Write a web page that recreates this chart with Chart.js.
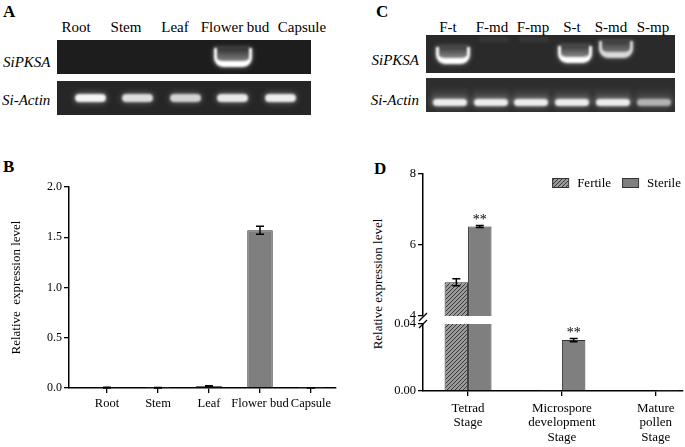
<!DOCTYPE html>
<html>
<head>
<meta charset="utf-8">
<script src="https://cdn.jsdelivr.net/npm/chart.js@4.4.0/dist/chart.umd.min.js"></script>
<style>
  body { margin:0; width:685px; height:447px; background:#fff; position:relative; overflow:hidden;
         font-family:"Liberation Serif","Times New Roman",serif; color:#000; }
  .tag { position:absolute; font-weight:bold; font-size:17px; line-height:17px; }
  .lane { position:absolute; font-size:15px; line-height:16px; transform:translateX(-50%); white-space:nowrap; }
  .gname { position:absolute; font-size:15px; line-height:16px; font-style:italic; white-space:nowrap; }
  .gel { position:absolute; overflow:hidden; }
  .band { position:absolute; }
  canvas { position:absolute; }
  #ytitleD { position:absolute; font-size:13px; white-space:nowrap; transform:translate(-50%,-50%) rotate(-90deg); }
</style>
</head>
<body>
<div class="tag" style="left:3px;top:3px">A</div>
<div class="tag" style="left:376px;top:3px">C</div>
<div class="tag" style="left:3px;top:158px">B</div>
<div class="tag" style="left:374px;top:160px">D</div>
<div id="ytitleD" style="left:378px;top:284px">Relative expression level</div>

<canvas id="chartB" width="340" height="272" style="left:0;top:175px"></canvas>
<canvas id="chartDhi" width="340" height="160" style="left:345px;top:160px"></canvas>
<canvas id="chartDlo" width="340" height="147" style="left:345px;top:300px"></canvas>

<script>
// ---- dados: géis
const lanesA = ["Root", "Stem", "Leaf", "Flower bud", "Capsule"];
const pksaA = [0, 0, 0, 1, 0];
const actinA = [0.95, 0.85, 0.8, 0.9, 0.92];

const lanesC = ["F-t", "F-md", "F-mp", "S-t", "S-md", "S-mp"];
const pksaC = [1, 0.06, 0.06, 1, 0.8, 0];
const actinC = [0.9, 0.9, 0.9, 0.9, 0.9, 0.6];

// ---- dados: painel B
const catsB = ["Root", "Stem", "Leaf", "Flower bud", "Capsule"];
const valsB = [0.004, 0.003, 0.02, 1.57, 0.002];
const errB = [0.003, 0.002, 0.002, 0.04, 0.001];
const ticksB = [0, 0.5, 1.0, 1.5, 2.0];

// ---- dados: painel D
const catsD = [["Tetrad", "Stage"], ["Microspore", "development", "Stage"], ["Mature", "pollen", "Stage"]];
const seriesD = ["Fertile", "Sterile"];
const fertileD = [4.95, 0.0003, 0.0004];
const fertileErr = [0.1, 0, 0];
const sterileD = [6.52, 0.0304, 0.0001];
const sterileErr = [0.03, 0.001, 0];
const sigSterile = ["**", "**", ""];
const ticksDhi = [4, 6, 8];
const ticksDlo = [0, 0.04];

// ---------- géis (imagem) ----------
function mkGel(x, y, w, h, bg) {
  const d = document.createElement("div");
  d.className = "gel";
  Object.assign(d.style, { left: x + "px", top: y + "px", width: w + "px", height: h + "px", background: bg });
  document.body.appendChild(d);
  return d;
}
function uBand(g, cx, top, w, h, a) {
  const b = document.createElement("div");
  b.className = "band";
  Object.assign(b.style, {
    left: (cx - w / 2) + "px", top: top + "px", width: (w - 6) + "px", height: (h - 6) + "px",
    border: `3px solid rgba(255,255,255,${a})`, borderTop: "0", borderBottomWidth: "6px",
    borderRadius: "0 0 9px 9px",
    background: `linear-gradient(to bottom, rgba(255,255,255,${0.08 * a}), rgba(255,255,255,${0.45 * a}))`,
    boxShadow: `0 0 5px rgba(255,255,255,${0.45 * a})`, filter: "blur(0.8px)"
  });
  g.appendChild(b);
}
function flatBand(g, cx, cy, w, h, a, haze) {
  if (haze) {
    const z = document.createElement("div");
    z.className = "band";
    Object.assign(z.style, {
      left: (cx - w / 2 - 2) + "px", top: (cy - 14) + "px", width: (w + 4) + "px", height: "16px",
      background: `linear-gradient(to bottom, rgba(255,255,255,0.02), rgba(255,255,255,${0.22 * a}))`,
      filter: "blur(2px)"
    });
    g.appendChild(z);
  }
  const b = document.createElement("div");
  b.className = "band";
  Object.assign(b.style, {
    left: (cx - w / 2) + "px", top: (cy - h / 2) + "px", width: w + "px", height: h + "px",
    background: `rgba(255,255,255,${a})`, borderRadius: "5px",
    boxShadow: `0 0 6px rgba(255,255,255,${0.5 * a})`, filter: "blur(1.3px)"
  });
  g.appendChild(b);
}
function laneLabel(text, cx, cy) {
  const d = document.createElement("div");
  d.className = "lane"; d.textContent = text;
  d.style.left = cx + "px"; d.style.top = (cy - 8) + "px";
  document.body.appendChild(d);
}
function geneLabel(text, x, cy, right) {
  const d = document.createElement("div");
  d.className = "gname"; d.textContent = text;
  d.style.top = (cy - 8) + "px";
  if (right) { d.style.right = (685 - x) + "px"; } else { d.style.left = x + "px"; }
  document.body.appendChild(d);
}

// painel A
const labelXA = [76, 126, 175, 235, 302];
lanesA.forEach((l, i) => laneLabel(l, labelXA[i], 27));
geneLabel("SiPKSA", 3, 62);
geneLabel("Si-Actin", 2, 100);
const gA1 = mkGel(57, 40, 254, 34, "#1d1d1d");
const gA2 = mkGel(57, 81, 254, 34, "#262626");
pksaA.forEach((v, i) => { if (v > 0.1) uBand(gA1, 33 + i * 47.5, 8, 38, 19, v); });
actinA.forEach((v, i) => flatBand(gA2, 33 + i * 47.5, 17, 31, 8, v, false));

// painel C
const labelXC = [448, 492, 533, 572, 611, 653];
lanesC.forEach((l, i) => laneLabel(l, labelXC[i], 27));
geneLabel("SiPKSA", 419, 60, true);
geneLabel("Si-Actin", 419, 100, true);
const gC1 = mkGel(426, 35, 249, 38, "#2a2a2a");
const gC2 = mkGel(426, 78, 249, 34, "#2e2e2e");
const bandTopC = [12, 8, 8, 11, 6, 8];
pksaC.forEach((v, i) => {
  if (v > 0.3) uBand(gC1, 27 + i * 40.7, bandTopC[i], 34, 17, v);
  else if (v > 0) flatBand(gC1, 27 + i * 40.7, 4, 30, 5, v, false);
});
actinC.forEach((v, i) => flatBand(gC2, 24 + i * 40.7, 24, 34, 7, v, true));

// ---------- Chart.js ----------
const FONT = "'Liberation Serif', 'Times New Roman', serif";
Chart.defaults.font.family = FONT;
Chart.defaults.color = "#000";

// barras de erro + asteriscos
const errorBars = {
  id: "errorBars",
  afterDatasetsDraw(chart) {
    const ctx = chart.ctx, ys = chart.scales.y;
    ctx.save();
    chart.data.datasets.forEach((ds, di) => {
      const meta = chart.getDatasetMeta(di);
      meta.data.forEach((bar, i) => {
        const v = ds.data[i].y, e = (ds.errors || [])[i] || 0;
        if (v < ys.min || v > ys.max) return;
        const top = ys.getPixelForValue(v + e), bot = ys.getPixelForValue(v - e);
        if (e > 0) {
          ctx.strokeStyle = "#000"; ctx.lineWidth = 1.5;
          ctx.beginPath();
          ctx.moveTo(bar.x, top); ctx.lineTo(bar.x, bot);
          ctx.moveTo(bar.x - 4, top); ctx.lineTo(bar.x + 4, top);
          ctx.moveTo(bar.x - 4, bot); ctx.lineTo(bar.x + 4, bot);
          ctx.stroke();
        }
        const s = (ds.stars || [])[i];
        if (s) {
          ctx.fillStyle = "#000"; ctx.font = "14px " + FONT;
          ctx.textAlign = "center"; ctx.textBaseline = "alphabetic";
          ctx.fillText(s, bar.x, top - 1);
        }
      });
    });
    ctx.restore();
  }
};

// legenda do painel D (desenhada dentro da área do gráfico)
const legendD = {
  id: "legendD",
  afterDraw(chart) {
    const ctx = chart.ctx, a = chart.chartArea;
    ctx.save();
    ctx.font = "13px " + FONT;
    const items = chart.data.datasets.map(ds => ({ label: ds.label, fill: ds.backgroundColor, w: ctx.measureText(ds.label).width }));
    let total = items.reduce((s, it) => s + 16 + 9 + it.w, 0) + 11 * (items.length - 1);
    let x = a.right - total - 2;
    const cy = 23;
    items.forEach(it => {
      ctx.fillStyle = it.fill; ctx.fillRect(x, cy - 4.5, 16, 9);
      ctx.strokeStyle = "#333"; ctx.lineWidth = 1; ctx.strokeRect(x + 0.5, cy - 4.5, 16, 9);
      ctx.fillStyle = "#000"; ctx.textAlign = "left"; ctx.textBaseline = "middle";
      ctx.fillText(it.label, x + 25, cy + 1);
      x += 16 + 9 + it.w + 11;
    });
    ctx.restore();
  }
};

// quebra do eixo
const axisBreak = {
  id: "axisBreak",
  afterDraw(chart) {
    const ctx = chart.ctx, a = chart.chartArea;
    ctx.save();
    ctx.strokeStyle = "#000"; ctx.lineWidth = 1.3;
    ctx.beginPath();
    ctx.moveTo(a.left - 4, a.top - 3); ctx.lineTo(a.left + 4, a.top - 11);
    ctx.moveTo(a.left - 4, a.top + 4); ctx.lineTo(a.left + 4, a.top - 4);
    ctx.stroke();
    ctx.restore();
  }
};

function hatch() {
  const c = document.createElement("canvas");
  c.width = 4; c.height = 4;
  const g = c.getContext("2d");
  g.fillStyle = "#9a9a9a"; g.fillRect(0, 0, 4, 4);
  g.strokeStyle = "#3a3a3a"; g.lineWidth = 1;
  g.beginPath();
  g.moveTo(0, 4); g.lineTo(4, 0);
  g.moveTo(-1, 1); g.lineTo(1, -1);
  g.moveTo(3, 5); g.lineTo(5, 3);
  g.stroke();
  return g.createPattern(c, "repeat");
}

// ---- painel B
new Chart(document.getElementById("chartB"), {
  type: "bar",
  data: {
    datasets: [{
      data: valsB.map((v, i) => ({ x: i, y: v })),
      errors: errB,
      backgroundColor: "#7f7f7f", borderColor: "#333", borderWidth: 1,
      barPercentage: 0.5, categoryPercentage: 1, clip: 0
    }]
  },
  options: {
    responsive: false, animation: false,
    layout: { autoPadding: false, padding: { top: 12, right: 4, left: 0, bottom: 0 } },
    plugins: { legend: { display: false }, tooltip: { enabled: false } },
    scales: {
      x: {
        type: "linear", min: -0.745, max: 4.49, offset: false,
        afterBuildTicks: s => { s.ticks = catsB.map((_, i) => ({ value: i })); },
        afterFit: s => { s.height = 59; s.paddingLeft = 0; s.paddingRight = 0; },
        ticks: { callback: v => catsB[v], autoSkip: false, maxRotation: 0, padding: 3, font: { size: 12.5 } },
        grid: { offset: false, drawOnChartArea: false, tickLength: 5, color: "#000", lineWidth: 1.3 },
        border: { color: "#000", width: 1.5 }
      },
      y: {
        min: 0, max: 2,
        afterBuildTicks: s => { s.ticks = ticksB.map(v => ({ value: v })); },
        afterFit: s => { s.width = 69; s.paddingTop = 0; s.paddingBottom = 0; },
        ticks: { callback: v => v.toFixed(1), padding: 2, font: { size: 12 } },
        grid: { drawOnChartArea: false, tickLength: 5, color: "#000", lineWidth: 1.3 },
        border: { color: "#000", width: 1.5 },
        title: { display: true, text: "Relative  expression level", font: { size: 13 }, padding: { top: 9, bottom: 0 } }
      }
    }
  },
  plugins: [errorBars]
});

// ---- painel D
const fillFertile = hatch();
function datasetsD() {
  return [
    { label: seriesD[0], data: fertileD.map((v, i) => ({ x: i, y: v })), errors: fertileErr,
      backgroundColor: fillFertile, borderColor: "#333", borderWidth: 1, barPercentage: 1, categoryPercentage: 0.5, clip: 0 },
    { label: seriesD[1], data: sterileD.map((v, i) => ({ x: i, y: v })), errors: sterileErr, stars: sigSterile,
      backgroundColor: "#7f7f7f", borderColor: "#333", borderWidth: 1, barPercentage: 1, categoryPercentage: 0.5, clip: 0 }
  ];
}
const axisLine = { color: "#000", width: 1.5 };
const tickGrid = { offset: false, drawOnChartArea: false, tickLength: 5, color: "#000", lineWidth: 1.3 };

new Chart(document.getElementById("chartDhi"), {
  type: "bar",
  data: { datasets: datasetsD() },
  options: {
    responsive: false, animation: false,
    layout: { autoPadding: false, padding: { top: 14, right: 2, left: 0, bottom: 4 } },
    plugins: { legend: { display: false }, tooltip: { enabled: false } },
    scales: {
      x: {
        type: "linear", min: -0.48, max: 2.29, offset: false,
        afterBuildTicks: s => { s.ticks = catsD.map((_, i) => ({ value: i })); },
        afterFit: s => { s.height = 0; s.paddingLeft = 0; s.paddingRight = 0; },
        ticks: { display: false },
        grid: { display: false, offset: false },
        border: { display: false }
      },
      y: {
        min: 4, max: 8,
        afterBuildTicks: s => { s.ticks = ticksDhi.map(v => ({ value: v })); },
        afterFit: s => { s.width = 78; s.paddingTop = 0; s.paddingBottom = 0; },
        ticks: { callback: v => String(v), padding: 2, font: { size: 12.5 } },
        grid: tickGrid, border: axisLine
      }
    }
  },
  plugins: [errorBars, legendD]
});

new Chart(document.getElementById("chartDlo"), {
  type: "bar",
  data: { datasets: datasetsD() },
  options: {
    responsive: false, animation: false,
    layout: { autoPadding: false, padding: { top: 24, right: 2, left: 0, bottom: 0 } },
    plugins: { legend: { display: false }, tooltip: { enabled: false } },
    scales: {
      x: {
        type: "linear", min: -0.48, max: 2.29, offset: false,
        afterBuildTicks: s => { s.ticks = catsD.map((_, i) => ({ value: i })); },
        afterFit: s => { s.height = 56; s.paddingLeft = 0; s.paddingRight = 0; },
        ticks: { callback: v => catsD[v], autoSkip: false, maxRotation: 0, padding: 5, font: { size: 13, lineHeight: 1.12 } },
        grid: tickGrid, border: axisLine
      },
      y: {
        min: 0, max: 0.04,
        afterBuildTicks: s => { s.ticks = ticksDlo.map(v => ({ value: v })); },
        afterFit: s => { s.width = 78; s.paddingTop = 0; s.paddingBottom = 0; },
        ticks: { callback: v => v.toFixed(2), padding: 2, font: { size: 12.5 } },
        grid: tickGrid, border: axisLine
      }
    }
  },
  plugins: [errorBars, axisBreak]
});
</script>
</body>
</html>
